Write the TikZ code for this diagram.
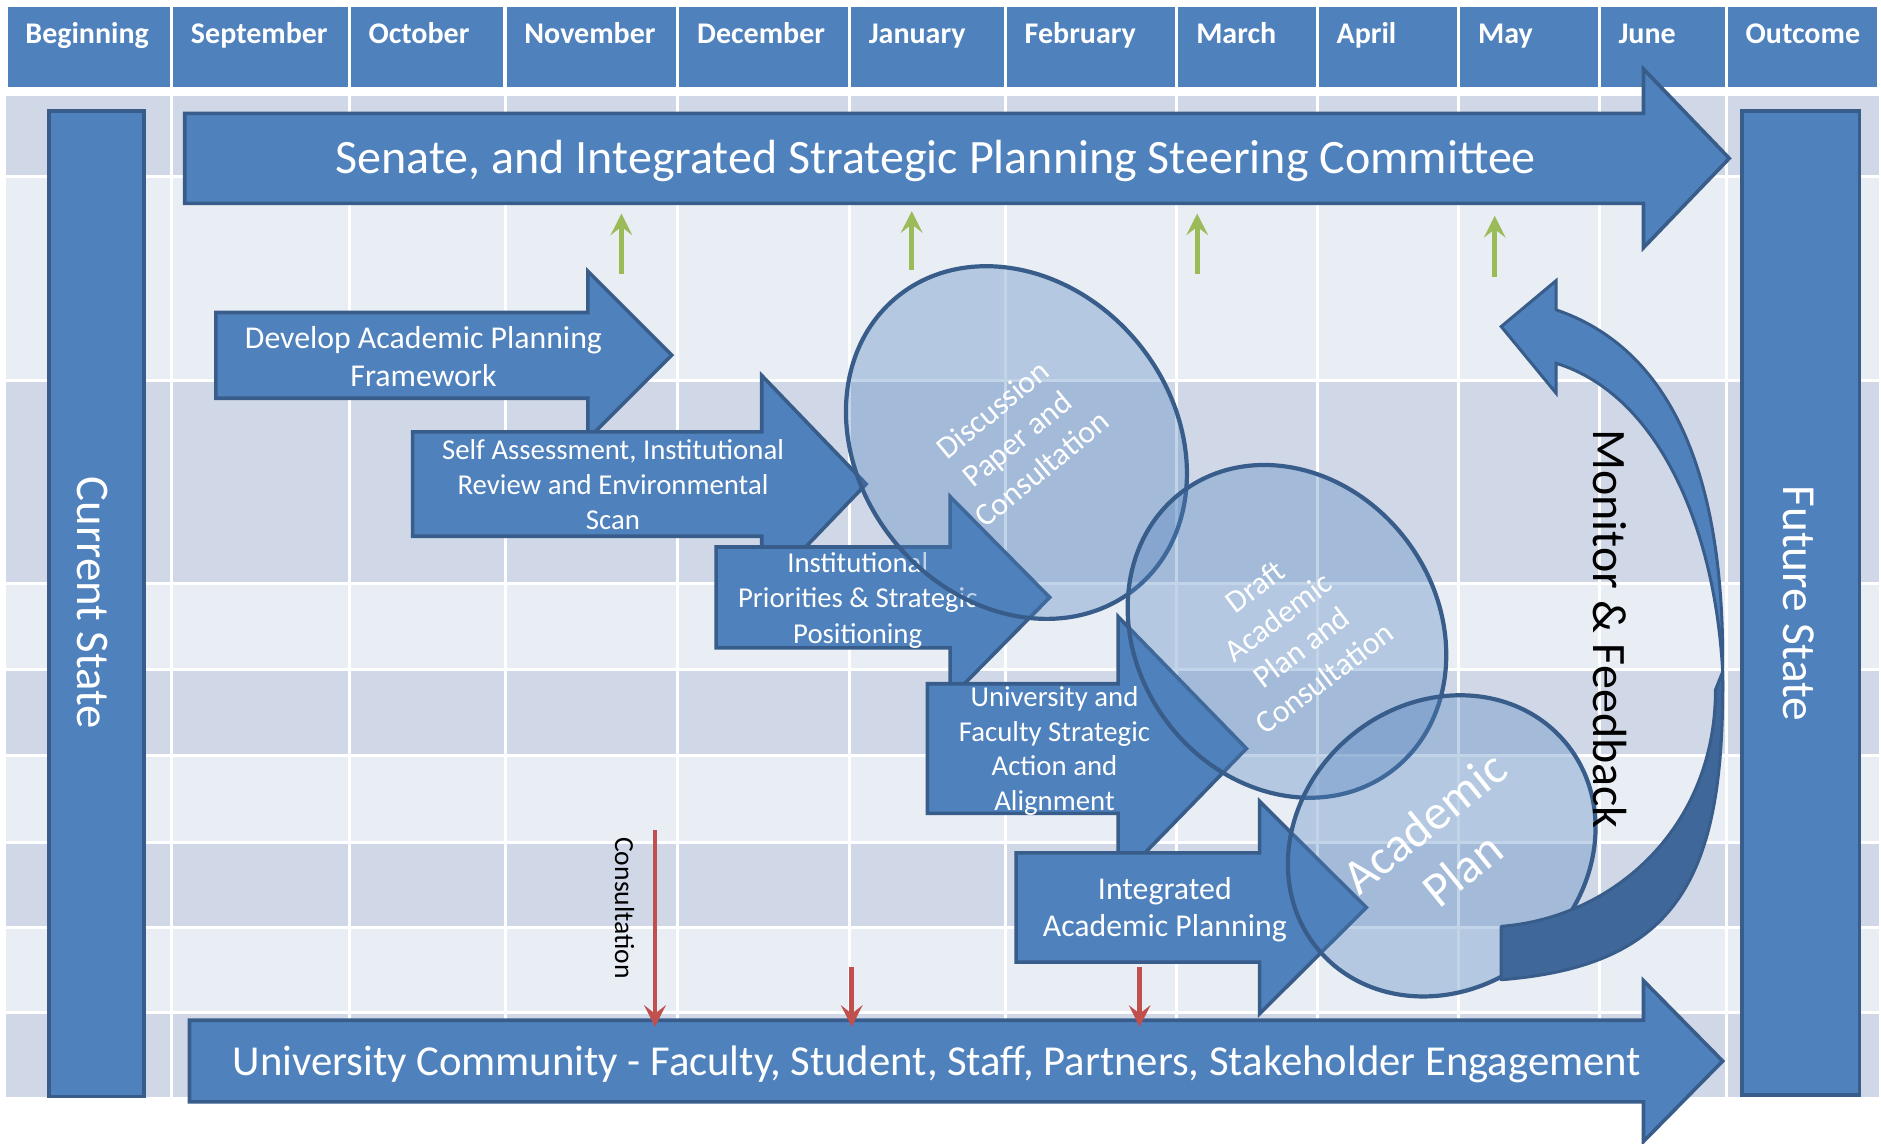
\documentclass[tikz,border=0pt]{standalone}
\usepackage{fontspec}
\setmainfont{Carlito}
\usetikzlibrary{arrows.meta}
\definecolor{hdr}{HTML}{4F81BD}
\definecolor{bord}{HTML}{385D8A}
\definecolor{rowdark}{HTML}{D0D8E8}
\definecolor{rowlight}{HTML}{E9EDF4}
\definecolor{grn}{HTML}{9BBB59}
\definecolor{rd}{HTML}{C0504D}
\definecolor{darkband}{HTML}{40679A}
\begin{document}
\begin{tikzpicture}[x=1pt,y=-1pt,
  hdrtext/.style={text=white, font=\fontsize{25}{30}\selectfont\bfseries, inner sep=0pt, anchor=base west},
  wt/.style={text=white, inner sep=0pt, align=center},
  blockarrow/.style={fill=hdr, draw=bord, line width=3pt},
  bar/.style={fill=hdr, draw=bord, line width=3pt},
  bubble/.style={fill=hdr, fill opacity=0.34, draw=bord, line width=3.5pt},
  gridline/.style={white, line width=2.5pt},
  greenarrow/.style={grn, line width=4.5pt, -{Stealth[length=18pt,width=18pt,inset=7pt]}},
  redarrow/.style={rd, line width=4pt, -{Stealth[length=18pt,width=18pt,inset=7pt]}}
]
\useasboundingbox (0,0) rectangle (1568,953);
\fill[white] (0,0) rectangle (1568,953);

% header
\foreach \a/\b/\t [count=\i] in {5/143/Beginning,143/291/September,291/421/October,421/565/November,565/708/December,708/838/January,838/981/February,981/1098/March,1098/1216/April,1216/1333/May,1333/1439/June,1439/1566/Outcome}{
  \fill[hdr] (\a+1.3,5.6) rectangle (\b-1.3,72.8);
  \node[hdrtext] (hd\i) at (\a+16,36) {\t};
}

% body rows
\foreach \a/\b/\c in {79.7/147.5/rowdark,147.5/317/rowlight,317/486/rowdark,486/558/rowlight,558/630/rowdark,630/702/rowlight,702/773/rowdark,773/844/rowlight,844/914.5/rowdark}{
  \fill[\c] (5,\a) rectangle (1566,\b);
}
\foreach \y in {147.5,317,486,558,630,702,773,844}{
  \draw[gridline] (5,\y) -- (1566,\y);
}
\foreach \x in {143,291,421,565,708,838,981,1098,1216,1333,1439}{
  \draw[gridline] (\x,79.7) -- (\x,914.5);
}

% side bars
\draw[bar] (41,92.5) rectangle (120,914);
\node[wt, rotate=-90, font=\fontsize{39}{47}\selectfont] (current) at (77,502.5) {Current State};
\draw[bar] (1452,92.5) rectangle (1550,913);
\node[wt, rotate=-90, font=\fontsize{39.5}{47}\selectfont] (future) at (1499,503) {Future State};

% top and bottom long arrows
\draw[blockarrow] (154,94.5) -- (1370,94.5) -- (1370,57.5) -- (1441.5,132) -- (1370,206.5) -- (1370,169.5) -- (154,169.5) -- cycle;
\node[wt, anchor=base, font=\fontsize{40}{48}\selectfont] (senate) at (780,144.4) {Senate, and Integrated Strategic Planning Steering Committee};
\draw[blockarrow] (158,850.5) -- (1370,850.5) -- (1370,817.5) -- (1436,884.5) -- (1370,951.5) -- (1370,918.5) -- (158,918.5) -- cycle;
\node[wt, anchor=base, font=\fontsize{35.6}{42}\selectfont] (community) at (781,896.7) {University Community - Faculty, Student, Staff, Partners, Stakeholder Engagement};

% green arrows
\foreach \x/\ya/\yb [count=\i] in {518/228/178,760/225/176,998/228/178,1246/231/180}{
  \coordinate (gs\i) at (\x,\ya);
  \coordinate (ge\i) at (\x,\yb);
  \draw[greenarrow] (gs\i) -- (ge\i);
}

% process arrows
\draw[blockarrow] (180,260.5) -- (490,260.5) -- (490,226) -- (560,296) -- (490,366) -- (490,332) -- (180,332) -- cycle;
\node[wt, font=\fontsize{26.5}{32}\selectfont] (develop) at (353,297) {Develop Academic Planning\\Framework};

\draw[blockarrow] (344,360) -- (635,360) -- (635,313) -- (722,403.5) -- (635,494) -- (635,447) -- (344,447) -- cycle;
\node[wt, font=\fontsize{24}{29.3}\selectfont] (selfassess) at (511,404) {Self Assessment, Institutional\\Review and Environmental\\Scan};

\draw[blockarrow] (597,456) -- (792,456) -- (792,414) -- (875,498) -- (792,582) -- (792,540) -- (597,540) -- cycle;
\node[wt, font=\fontsize{24}{29.5}\selectfont] (priorities) at (715,500.5) {Institutional\\Priorities \& Strategic\\Positioning};

\draw[blockarrow] (773,570) -- (932,570) -- (932,514) -- (1039,624) -- (932,734) -- (932,678) -- (773,678) -- cycle;
\node[wt, font=\fontsize{24}{29}\selectfont] (faculty) at (879,626) {University and\\Faculty Strategic\\Action and\\Alignment};

\draw[blockarrow] (847,711) -- (1050,711) -- (1050,668) -- (1139,756.5) -- (1050,845) -- (1050,802) -- (847,802) -- cycle;
\node[wt, font=\fontsize{26.5}{31}\selectfont] (integrated) at (971,758) {Integrated\\Academic Planning};

% ellipses
\draw[bubble, rotate around={39.6:(847.3,368.9)}] (847.3,368.9) ellipse [x radius=131, y radius=157];
\node[wt, rotate=39.6, font=\fontsize{26.5}{32}\selectfont] (discussion) at (848,366) {Discussion\\Paper and\\Consultation};
\draw[bubble, rotate around={36.5:(1072.8,526.3)}] (1072.8,526.3) ellipse [x radius=125.3, y radius=145.5];
\node[wt, rotate=37, font=\fontsize{26.5}{32}\selectfont] (draft) at (1075,527) {Draft\\Academic\\Plan and\\Consultation};
\draw[bubble, rotate around={40:(1201.8,705.1)}] (1201.8,705.1) ellipse [x radius=134.4, y radius=118.9];
\node[wt, rotate=39, font=\fontsize{41}{50}\selectfont] (acplan) at (1203,705) {Academic\\Plan};

% monitor & feedback curved arrow
\draw[fill=darkband, draw=bord, line width=2.5pt, line join=round]
  (1436,560) .. controls (1438,730) and (1400,805) .. (1251.4,816.7)
  -- (1251.4,772.2) .. controls (1345,765) and (1430,690) .. (1430,575) -- cycle;
\draw[fill=hdr, draw=bord, line width=2.5pt, line join=miter]
  (1297.2,258.3) .. controls (1390,290) and (1438,390) .. (1436,560)
  .. controls (1430,445) and (1385,330) .. (1297.2,302.8)
  -- (1297.2,327.8) -- (1251.4,272.2) -- (1297.2,233.9) -- cycle;
\node[rotate=-90, inner sep=0pt, font=\fontsize{40}{48}\selectfont] (monitor) at (1342.3,524.3) {Monitor \& Feedback};

% red consultation arrows
\foreach \x/\ya [count=\i] in {546/692,710/806,950/806}{
  \coordinate (rs\i) at (\x,\ya);
  \coordinate (re\i) at (\x,856);
  \draw[redarrow] (rs\i) -- (re\i);
}
\node[rotate=-90, inner sep=0pt, font=\fontsize{23}{28}\selectfont] (consult) at (520.6,757) {Consultation};
\end{tikzpicture}
\end{document}
